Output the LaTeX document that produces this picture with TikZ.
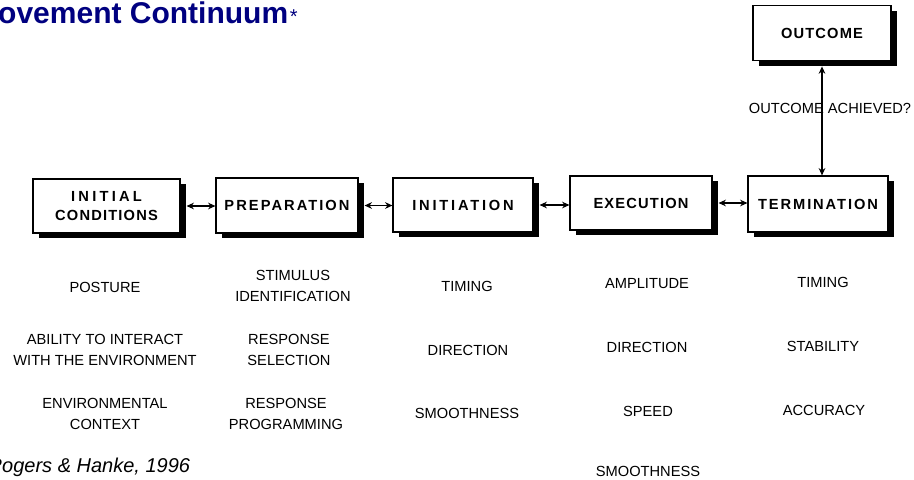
\documentclass[tikz,border=0pt]{standalone}
\usepackage{fontspec}
\setmainfont{Liberation Sans}
\newfontfamily\boxfont[LetterSpace=8]{Liberation Sans}
\usetikzlibrary{shadows,arrows.meta}
\definecolor{titleblue}{RGB}{0,0,128}
\newcommand{\ls}[1]{\addfontfeature{LetterSpace=#1}}
\begin{document}
\begin{tikzpicture}[x=0.75pt,y=-0.75pt,
  stagebox/.style={draw, line width=0.9pt, fill=white, inner sep=0pt, align=center,
    font=\boxfont\bfseries\fontsize{11}{14.5}\selectfont,
    drop shadow={shadow xshift=4.5pt, shadow yshift=-4pt, fill=black, opacity=1}},
  item/.style={align=center, inner sep=0pt, font=\fontsize{11}{15.5}\selectfont},
  dbl/.style={line width=0.8pt, {Stealth[length=5.5pt,width=5pt]}-{Stealth[length=5.5pt,width=5pt]}}]
\useasboundingbox (0,0) rectangle (914,479);
\fill[white] (0,0) rectangle (914,479);

% title and citation
\node[anchor=base east, inner sep=0pt, text=titleblue, font=\bfseries\fontsize{22.5}{22.5}\selectfont] (title) at (288.5,23) {Movement Continuum};
\node[anchor=base west, inner sep=0.8pt, text=titleblue, font=\fontsize{15}{15}\selectfont] (star) at (title.base east) {*};
\node[anchor=base west, inner sep=0pt, font=\itshape\fontsize{15}{15}\selectfont] (cite) at (-12.5,472) {Rogers \& Hanke, 1996};

% stage boxes
\node[stagebox, minimum width=110.25pt, minimum height=40.5pt] (ic) at (106.5,206) {{\ls{22}INITIAL}\\CONDITIONS};
\node[stagebox, minimum width=106.5pt, minimum height=41.25pt] (prep) at (287,205.5) {\ls{14}PREPARATION};
\node[stagebox, minimum width=105pt, minimum height=40.5pt] (init) at (463,205) {\ls{19}INITIATION};
\node[stagebox, minimum width=106.5pt, minimum height=40.5pt] (exec) at (641,203) {EXECUTION};
\node[stagebox, minimum width=105pt, minimum height=42pt] (term) at (818,204) {\ls{13}TERMINATION};
\node[stagebox, minimum width=103.5pt, minimum height=41.25pt] (out) at (822,33) {OUTCOME};

% connectors (start beyond each box's shadow)
\draw[dbl] ([xshift=4.5pt]ic.east) -- (ic.east -| prep.west);
\draw[dbl] ([xshift=4.5pt]prep.east) -- (prep.east -| init.west);
\draw[dbl] ([xshift=4.5pt]init.east) -- (init.east -| exec.west);
\draw[dbl] ([xshift=4.5pt]exec.east) -- (exec.east -| term.west);
\draw[dbl] ([yshift=-4pt]out.south) -- (out.south |- term.north);
\node[item] (ach) at (830,108) {OUTCOME ACHIEVED?};

% column items
\node[item] (ic1) at (105,287) {POSTURE};
\node[item] (ic2) at (105,350) {ABILITY TO INTERACT\\WITH THE ENVIRONMENT};
\node[item] (ic3) at (105,414) {ENVIRONMENTAL\\CONTEXT};

\node[item] (p1) at (293,286) {STIMULUS\\IDENTIFICATION};
\node[item] (p2) at (289,350) {RESPONSE\\SELECTION};
\node[item] (p3) at (286,414) {RESPONSE\\PROGRAMMING};

\node[item] (i1) at (467,286) {TIMING};
\node[item] (i2) at (468,350) {DIRECTION};
\node[item] (i3) at (467,413) {SMOOTHNESS};

\node[item] (e1) at (647,284) {AMPLITUDE};
\node[item] (e2) at (647,347) {DIRECTION};
\node[item] (e3) at (648,411) {SPEED};
\node[item] (e4) at (648,471) {SMOOTHNESS};

\node[item] (t1) at (823,282) {TIMING};
\node[item] (t2) at (823,346) {STABILITY};
\node[item] (t3) at (824,410) {ACCURACY};
\end{tikzpicture}
\end{document}
